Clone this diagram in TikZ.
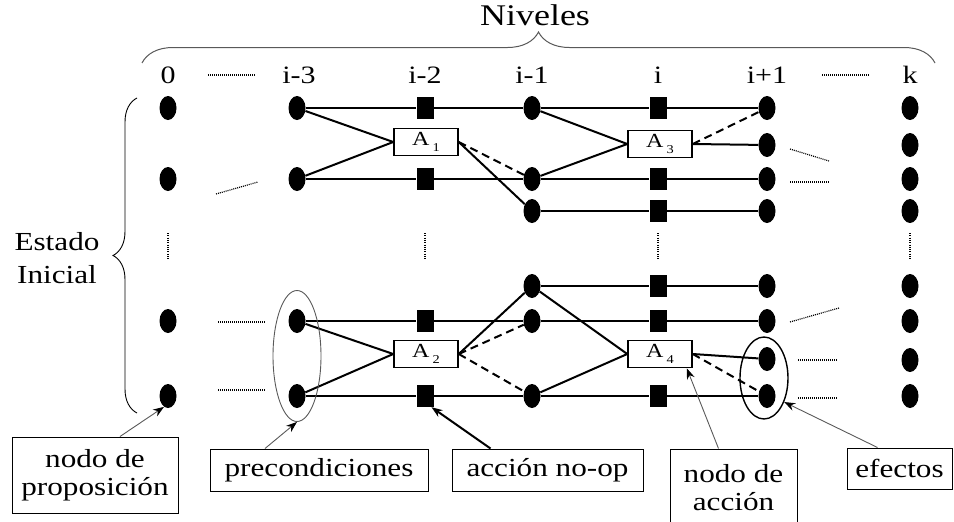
\documentclass[tikz,border=0pt]{standalone}
\usepackage{fontspec}
\setmainfont{Liberation Serif}[FakeStretch=1.2]
\usetikzlibrary{shapes.geometric,decorations.pathreplacing,arrows.meta}
\begin{document}
\begin{tikzpicture}[x=1pt,y=-1pt,
  prop/.style={ellipse,fill=black,inner sep=0pt,minimum width=17pt,minimum height=24pt},
  noop/.style={rectangle,fill=black,inner sep=0pt,minimum width=17pt,minimum height=22pt},
  act/.style={rectangle,draw,line width=1.5pt,fill=white,minimum width=64pt,minimum height=27pt,inner sep=0pt,font=\fontsize{20}{20}\selectfont},
  link/.style={line width=2pt},
  dlink/.style={line width=2pt,dash pattern=on 8pt off 5pt},
  dotline/.style={line width=1.2pt,dash pattern=on 1pt off 1pt},
  lbl/.style={font=\fontsize{25}{25}\selectfont,anchor=base,inner sep=0pt},
  callout/.style={draw,line width=1pt,fill=white,font=\fontsize{26}{28}\selectfont,align=center,inner sep=0pt},
  ptr/.style={draw=gray!70!black,line width=0.9pt,-{Stealth[length=11pt,width=8pt,color=black]}},
  bptr/.style={draw=black,line width=2pt,-{Stealth[length=11pt,width=8pt,color=black]}},
]
\useasboundingbox (0,0) rectangle (954,522);

% titles
\node[font=\fontsize{30}{30}\selectfont,anchor=base,inner sep=0pt] (niv) at (535,25) {Niveles};
\draw[gray!70!black,line width=1pt,decorate,decoration={brace,amplitude=31pt}] (142,63) -- (935,63);
\node[font=\fontsize{26}{33}\selectfont,align=center,inner sep=0pt] (est) at (57,258) {Estado\\Inicial};
\draw[line width=0.9pt,decorate,decoration={brace,amplitude=24pt}] (137,413) -- (137,98);

% header labels
\node[lbl] (h0) at (168,83) {0};
\node[lbl] (h3) at (299,83) {i-3};
\node[lbl] (h2) at (425,83) {i-2};
\node[lbl] (h1) at (532,83) {i-1};
\node[lbl] (hi) at (658,83) {i};
\node[lbl] (hp) at (767,83) {i+1};
\node[lbl] (hk) at (910,83) {k};
\draw[dotline] (208,75) -- (255,75);
\draw[dotline] (822,75) -- (869,75);

% proposition nodes
\foreach \y/\n in {108/1,179/2,321/5,396/7} {
  \node[prop] (a\n) at (168,\y) {};
  \node[prop] (b\n) at (297,\y) {};
}
\foreach \y/\n in {108/1,179/2,211/3,286/4,321/5,396/7}
  \node[prop] (c\n) at (532,\y) {};
\foreach \y/\n in {108/1,145/2b,179/2,211/3,286/4,321/5,359/6,396/7}
  \node[prop] (d\n) at (767,\y) {};
\foreach \y/\n in {108/1,145/2b,179/2,211/3,286/4,321/5,360/6,396/7}
  \node[prop] (k\n) at (910,\y) {};

% no-op nodes
\foreach \y/\n in {108/1,179/2,321/5,396/7}
  \node[noop] (s\n) at (425,\y) {};
\foreach \y/\n in {108/1,179/2,211/3,286/4,321/5,396/7}
  \node[noop] (t\n) at (658,\y) {};

% action nodes
\node[act] (A1) at (426,142) {A\,\raisebox{-6pt}{\fontsize{12}{12}\selectfont 1}};
\node[act] (A3) at (660,144) {A\,\raisebox{-6pt}{\fontsize{12}{12}\selectfont 3}};
\node[act] (A2) at (426,354) {A\,\raisebox{-6pt}{\fontsize{12}{12}\selectfont 2}};
\node[act] (A4) at (660,354) {A\,\raisebox{-6pt}{\fontsize{12}{12}\selectfont 4}};

% horizontal (no-op) lines
\draw[link] (b1) -- (s1) -- (c1) -- (t1) -- (d1);
\draw[link] (b2) -- (s2) -- (c2) -- (t2) -- (d2);
\draw[link] (c3) -- (t3) -- (d3);
\draw[link] (c4) -- (t4) -- (d4);
\draw[link] (b5) -- (s5) -- (c5) -- (t5) -- (d5);
\draw[link] (b7) -- (s7) -- (c7) -- (t7) -- (d7);

% action links (top)
\draw[link] (b1) -- (A1.west);
\draw[link] (b2) -- (A1.west);
\draw[link] (A1.east) -- (c3);
\draw[dlink] (A1.east) -- (c2);
\draw[link] (c1) -- (A3.west);
\draw[link] (c2) -- (A3.west);
\draw[link] (A3.east) -- (d2b);
\draw[dlink] (A3.east) -- (d1);

% action links (bottom)
\draw[link] (b5) -- (A2.west);
\draw[link] (b7) -- (A2.west);
\draw[link] (A2.east) -- (c4);
\draw[dlink] (A2.east) -- (c5);
\draw[dlink] (A2.east) -- (c7);
\draw[link] (c4) -- (A4.west);
\draw[link] (c7) -- (A4.west);
\draw[link] (A4.east) -- (d6);
\draw[dlink] (A4.east) -- (d7);

% redraw action boxes on top
\node[act] at (A1) {A\,\raisebox{-6pt}{\fontsize{12}{12}\selectfont 1}};
\node[act] at (A3) {A\,\raisebox{-6pt}{\fontsize{12}{12}\selectfont 3}};
\node[act] at (A2) {A\,\raisebox{-6pt}{\fontsize{12}{12}\selectfont 2}};
\node[act] at (A4) {A\,\raisebox{-6pt}{\fontsize{12}{12}\selectfont 4}};

% ellipsis marks
\draw[dotline] (216,194) -- (258,182);
\draw[dotline] (790,149) -- (829,161);
\draw[dotline] (790,182) -- (829,182);
\draw[dotline] (218,322) -- (265,322);
\draw[dotline] (218,390) -- (265,390);
\draw[dotline] (790,322) -- (839,308);
\draw[dotline] (798,360) -- (837,360);
\draw[dotline] (798,398) -- (837,398);
\foreach \x in {168,425,658,910}
  \draw[line width=1.2pt,dash pattern=on 1pt off 1.3pt] (\x,233) -- (\x,260);

% group ellipses
\node[ellipse,draw=gray!70!black,line width=0.9pt,minimum width=48pt,minimum height=131pt,inner sep=0pt] (pre) at (297,356) {};
\node[ellipse,draw=black,line width=1.4pt,minimum width=48pt,minimum height=82pt,inner sep=0pt] (eff) at (764,378) {};

% callouts
\node[callout,minimum width=166pt,minimum height=76pt] (cprop) at (95,475) {nodo de\\proposición};
\node[callout,minimum width=218pt,minimum height=42pt] (cpre) at (319,470) {precondiciones};
\node[callout,minimum width=191pt,minimum height=42pt] (cnoop) at (547.5,470) {acción no-op};
\node[callout,minimum width=127pt,minimum height=78pt] (cact) at (733.5,488) {nodo de\\acción};
\node[callout,minimum width=105pt,minimum height=41pt] (ceff) at (899.5,468.5) {efectos};

\draw[ptr] ([xshift=25pt]cprop.north) -- (a7.-110);
\draw[ptr] ([xshift=-54pt]cpre.north) -- (pre.south);
\draw[bptr] ([xshift=-57pt]cnoop.north) -- (s7.-60);
\draw[ptr] ([xshift=-15pt]cact.north) -- ([xshift=-6pt]A4.south east);
\draw[ptr] ([xshift=-22pt]ceff.north) -- (eff.-50);
\end{tikzpicture}
\end{document}
